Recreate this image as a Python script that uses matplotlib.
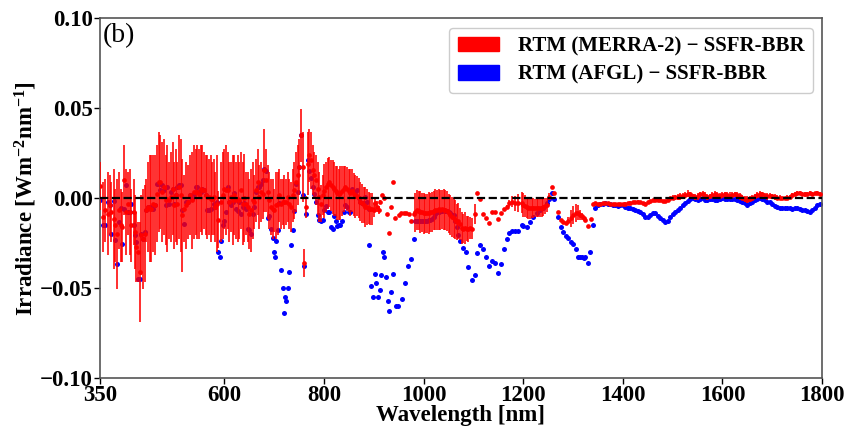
import matplotlib
matplotlib.use("Agg")
import matplotlib.pyplot as plt
from matplotlib.patches import Patch

plt.rcParams['font.family'] = ['Liberation Serif', 'DejaVu Serif']
plt.rcParams['mathtext.fontset'] = 'custom'
plt.rcParams['mathtext.rm'] = 'Liberation Serif:bold'
plt.rcParams['mathtext.it'] = 'Liberation Serif:bold'
plt.rcParams['mathtext.bf'] = 'Liberation Serif:bold'

# ---------------- data: RTM (MERRA-2) - SSFR-BBR (red, with error bars) ----------------
merra_wl = [350, 357, 360, 367, 370, 373, 378, 381, 385, 388, 392, 395, 399, 403, 407, 410, 413, 418, 420, 423,
            427, 430, 433, 437, 440, 443, 447, 450, 453, 457, 461, 465, 468, 471, 475, 479, 482, 485, 489, 492,
            496, 499, 502, 505, 509, 512, 515, 519, 523, 527, 531, 535, 539, 542, 545, 549, 552, 555, 559, 562,
            565, 569, 572, 575, 579, 582, 585, 588,
            593, 597, 600, 603, 607, 610, 613, 617, 620, 623, 627, 630, 633, 637, 640, 643, 647, 650, 653, 657,
            660, 663, 667, 670, 673, 677, 680, 683, 687, 690, 693, 697, 700, 703, 707, 710, 713, 717, 720, 723,
            727, 730, 733, 737, 740, 743, 747, 750, 753, 757, 760, 763, 767, 770, 773, 777, 780, 783, 787, 790,
            793, 797,
            800, 803, 807, 810, 813, 817, 820, 823, 827, 830, 833, 837, 840, 843, 847, 850, 853, 857, 860, 863,
            867, 870, 873, 877, 880, 883, 887, 890, 893, 897, 900, 903, 907, 910, 913, 917, 920, 927, 931, 935,
            938, 943, 950, 955, 960, 965, 970, 975, 981,
            983, 987, 990, 993, 997, 1000, 1003, 1007, 1010, 1013, 1017, 1020, 1023, 1027, 1030, 1033, 1037, 1040,
            1043, 1047, 1050, 1053, 1057, 1060, 1063, 1067, 1070, 1073, 1077, 1080, 1083, 1087, 1090, 1094, 1097,
            1103, 1108, 1113, 1120, 1125, 1131, 1138, 1143, 1149, 1155, 1161, 1167, 1172, 1177, 1183, 1190, 1197,
            1200, 1203, 1207, 1210, 1213, 1217, 1220, 1223, 1227, 1230, 1233, 1237, 1240, 1243, 1247, 1251, 1257,
            1261, 1270, 1275, 1280, 1285, 1290, 1295, 1300, 1305, 1309, 1313, 1318, 1322, 1325, 1330, 1337, 1340,
            1345,
            1350, 1355, 1360, 1365, 1370, 1375, 1380, 1385, 1390, 1395, 1400, 1405, 1410, 1415, 1420, 1425, 1430,
            1435, 1440, 1445, 1450, 1455, 1460, 1465, 1470, 1475, 1480, 1485, 1490, 1495, 1500, 1505, 1510, 1515,
            1520, 1525, 1530, 1535, 1540, 1545, 1550, 1555, 1560, 1565, 1570, 1575, 1580, 1585, 1590, 1595, 1600,
            1605, 1610, 1615, 1620, 1625, 1630, 1635, 1640, 1645, 1650, 1655, 1660, 1665, 1670, 1675, 1680, 1685,
            1690, 1695, 1700, 1705, 1710, 1715, 1720, 1725, 1730, 1735, 1740, 1745, 1750, 1755, 1760, 1765, 1770,
            1775, 1780, 1785, 1790, 1795]

merra_val = [0.0066, -0.0106, -0.0069, -0.0087, -0.0041, -0.0078, -0.0115, -0.0152, -0.0198, -0.0069, -0.0152,
             -0.0161, 0.0098, -0.0078, -0.0031, -0.0078, -0.0152, -0.0078, -0.0189, -0.0272, -0.0300, -0.0411,
             -0.0207, -0.0226, -0.0198, -0.0069, -0.0050, -0.0059, -0.0059, -0.0031, -0.0041, 0.0024, 0.0089,
             0.0089, 0.0033, 0.0061, -0.0013, -0.0004, -0.0013, 0.0006, 0.0052, -0.0041, 0.0015, -0.0031, 0.0061,
             0.0015, -0.0096, -0.0059, -0.0041, -0.0022, 0.0015, -0.0013, 0.0033, 0.0033, 0.0033, 0.0024, 0.0052,
             0.0043, 0.0043, 0.0015, 0.0006, 0.0006, -0.0004, -0.0004, 0.0006, -0.0050, -0.0031, -0.0120,
             -0.0022, 0.0015, 0.0052, 0.0043, 0.0043, -0.0022, 0.0006, -0.0013, 0.0015, -0.0013, -0.0004, -0.0013,
             0.0043, -0.0031, 0.0002, -0.0031, -0.0050, -0.0087, -0.0069, -0.0013, -0.0022, 0.0043, 0.0089, 0.0006,
             0.0033, 0.0024, 0.0154, 0.0098, 0.0033, -0.0013, -0.0050, -0.0059, -0.0069, -0.0041, -0.0031, 0.0015,
             -0.0031, -0.0022, -0.0022, -0.0022, 0.0006, -0.0031, -0.0050, 0.0015, 0.0043, 0.0089, 0.0126, 0.0172,
             0.0348, 0.0172, -0.0360, -0.0050, 0.0190, 0.0237, 0.0209, 0.0154, 0.0126, 0.0098, 0.0052, 0.0006,
             -0.0031, 0.0015,
             0.0040, 0.0060, 0.0080, 0.0090, 0.0070, 0.0060, 0.0050, 0.0040, 0.0030, 0.0020, 0.0030, 0.0040,
             0.0050, 0.0060, 0.0050, 0.0040, 0.0030, 0.0040, 0.0020, 0.0010, 0.0010, 0.0000, -0.0020, -0.0030,
             -0.0040, -0.0050, -0.0050, -0.0055, -0.0060, -0.0060, -0.0067, -0.0030, -0.0048, -0.0067, -0.0020,
             0.0017, -0.0002, -0.0087, -0.0194, -0.0050, 0.0091, -0.0113, -0.0094, -0.0085, -0.0081, -0.0085,
             -0.0089, -0.0130, -0.0090,
             -0.0080, -0.0065, -0.0070, -0.0078, -0.0080, -0.0085, -0.0085, -0.0085, -0.0083, -0.0080, -0.0078,
             -0.0070, -0.0065, -0.0067, -0.0063, -0.0065, -0.0063, -0.0065, -0.0067, -0.0072, -0.0085, -0.0095,
             -0.0105, -0.0110, -0.0120, -0.0135, -0.0125, -0.0145, -0.0165, -0.0170, -0.0165, -0.0170, -0.0172,
             -0.0168, -0.0170, -0.0090, 0.0026, -0.0007, -0.0089, -0.0113, -0.0137, -0.0080, -0.0080, -0.0119,
             -0.0085, -0.0063, -0.0048, -0.0030, -0.0020, -0.0030, -0.0030, -0.0026, -0.0039, -0.0045, -0.0052,
             -0.0055, -0.0057, -0.0057, -0.0057, -0.0057, -0.0057, -0.0057, -0.0057, -0.0055, -0.0052, -0.0045,
             -0.0039, 0.0007, 0.0063, 0.0026, -0.0076, -0.0122, -0.0131, -0.0137, -0.0126, -0.0113, -0.0094,
             -0.0085, -0.0081, -0.0094, -0.0102, -0.0113, -0.0122, -0.0156, -0.0119, -0.0035, -0.0026,
             -0.0035, -0.0033, -0.0030, -0.0030, -0.0030, -0.0032, -0.0033, -0.0035, -0.0035, -0.0033, -0.0033,
             -0.0032, -0.0030, -0.0026, -0.0024, -0.0022, -0.0020, -0.0024, -0.0028, -0.0031, -0.0024, -0.0017,
             -0.0013, -0.0011, -0.0013, -0.0013, -0.0017, -0.0017, -0.0009, -0.0002, 0.0002, 0.0004, 0.0006,
             0.0009, 0.0011, 0.0017, 0.0024, 0.0020, 0.0013, 0.0006, 0.0009, 0.0020, 0.0024, 0.0013, 0.0006,
             0.0009, 0.0017, 0.0020, 0.0017, 0.0013, 0.0017, 0.0020, 0.0017, 0.0013, 0.0017, 0.0020, 0.0017,
             0.0009, 0.0002, -0.0006, -0.0009, -0.0006, 0.0002, 0.0009, 0.0017, 0.0020, 0.0020, 0.0013, 0.0009,
             0.0013, 0.0009, 0.0006, 0.0002, 0.0002, -0.0002, -0.0002, 0.0002, 0.0007, 0.0017, 0.0024, 0.0028,
             0.0028, 0.0024, 0.0020, 0.0024, 0.0028, 0.0024, 0.0026, 0.0028, 0.0024]

merra_err = [0.0134, 0.0194, 0.0176, 0.0231, 0.0167, 0.0167, 0.0278, 0.0204, 0.0306, 0.0213, 0.0204, 0.0194,
             0.0194, 0.0241, 0.0176, 0.0241, 0.0204, 0.0185, 0.0204, 0.0194, 0.0167, 0.0278, 0.0222, 0.0278,
             0.0269, 0.0176, 0.0250, 0.0296, 0.0296, 0.0269, 0.0278, 0.0269, 0.0278, 0.0259, 0.0278, 0.0269,
             0.0250, 0.0296, 0.0213, 0.0250, 0.0259, 0.0241, 0.0259, 0.0231, 0.0287, 0.0315, 0.0315, 0.0185,
             0.0241, 0.0204, 0.0222, 0.0269, 0.0259, 0.0241, 0.0259, 0.0250, 0.0241, 0.0250, 0.0213, 0.0222,
             0.0231, 0.0213, 0.0241, 0.0204, 0.0213, 0.0194, 0.0269, 0.0160,
             0.0222, 0.0240, 0.0222, 0.0250, 0.0213, 0.0222, 0.0194, 0.0250, 0.0222, 0.0213, 0.0241, 0.0213,
             0.0213, 0.0231, 0.0245, 0.0176, 0.0194, 0.0194, 0.0231, 0.0213, 0.0148, 0.0176, 0.0185, 0.0176,
             0.0167, 0.0139, 0.0231, 0.0176, 0.0148, 0.0157, 0.0157, 0.0167, 0.0120, 0.0185, 0.0176, 0.0148,
             0.0139, 0.0130, 0.0148, 0.0130, 0.0139, 0.0139, 0.0139, 0.0148, 0.0157, 0.0167, 0.0167, 0.0157,
             0.0148, 0.0194, 0.0079, 0.0060, 0.0176, 0.0148, 0.0157, 0.0139, 0.0130, 0.0139, 0.0148, 0.0139,
             0.0102, 0.0111,
             0.0150, 0.0140, 0.0140, 0.0140, 0.0140, 0.0150, 0.0150, 0.0140, 0.0150, 0.0140, 0.0150, 0.0140,
             0.0130, 0.0120, 0.0120, 0.0120, 0.0130, 0.0120, 0.0120, 0.0120, 0.0110, 0.0110, 0.0110, 0.0110,
             0.0100, 0.0110, 0.0100, 0.0090, 0.0090, 0.0090, 0.0040, 0.0030, 0.0030, 0.0020, 0.0010, 0.0, 0.0,
             0.0, 0.0, 0.0, 0.0, 0.0, 0.0, 0.0, 0.0, 0.0, 0.0, 0.0, 0.0,
             0.0110, 0.0110, 0.0110, 0.0115, 0.0110, 0.0115, 0.0110, 0.0110, 0.0115, 0.0110, 0.0110, 0.0110,
             0.0115, 0.0110, 0.0115, 0.0110, 0.0110, 0.0115, 0.0110, 0.0110, 0.0110, 0.0110, 0.0110, 0.0110,
             0.0110, 0.0100, 0.0100, 0.0090, 0.0090, 0.0080, 0.0090, 0.0070, 0.0070, 0.0060, 0.0060, 0.0056,
             0.0, 0.0, 0.0, 0.0, 0.0, 0.0, 0.0, 0.0, 0.0, 0.0, 0.0010, 0.0020, 0.0030, 0.0040, 0.0050, 0.0060,
             0.0065, 0.0060, 0.0060, 0.0060, 0.0060, 0.0055, 0.0055, 0.0050, 0.0050, 0.0050, 0.0050, 0.0050,
             0.0050, 0.0045, 0.0040, 0.0020, 0.0, 0.0, 0.0, 0.0, 0.0, 0.0, 0.0020, 0.0046, 0.0050, 0.0050,
             0.0040, 0.0030, 0.0020, 0.0, 0.0, 0.0, 0.0, 0.0, 0.0,
             0.0005, 0.0005, 0.0005, 0.0005, 0.0005, 0.0005, 0.0005, 0.0005, 0.0005, 0.0005, 0.0005, 0.0008,
             0.0008, 0.0008, 0.0008, 0.0008, 0.0008, 0.0008, 0.0008, 0.0008, 0.0008, 0.0008, 0.0008, 0.0008,
             0.0008, 0.0008, 0.0008, 0.0008, 0.0008, 0.0010, 0.0012, 0.0015, 0.0015, 0.0018, 0.0015, 0.0015,
             0.0018, 0.0015, 0.0012, 0.0015, 0.0018, 0.0015, 0.0015, 0.0018, 0.0015, 0.0012, 0.0015, 0.0018,
             0.0015, 0.0015, 0.0018, 0.0015, 0.0015, 0.0018, 0.0015, 0.0012, 0.0015, 0.0018, 0.0015, 0.0015,
             0.0018, 0.0015, 0.0015, 0.0012, 0.0015, 0.0018, 0.0015, 0.0015, 0.0018, 0.0015, 0.0012, 0.0015,
             0.0015, 0.0012, 0.0010, 0.0010, 0.0012, 0.0012, 0.0010, 0.0012, 0.0012, 0.0010, 0.0010, 0.0012,
             0.0010, 0.0010, 0.0012, 0.0010, 0.0012, 0.0010]

# ---------------- data: RTM (AFGL) - SSFR-BBR (blue) ----------------
afgl_wl = [350, 357, 360, 367, 370, 373, 378, 381, 385, 388, 392, 395, 399, 403, 407, 410, 413, 418, 420, 423,
           427, 430, 433, 437, 440, 443, 447, 450, 453, 457, 461, 465, 468, 471, 475, 479, 482, 485, 489, 492,
           496, 499, 502, 505, 509, 512, 515, 519, 523, 527, 531, 535, 539, 542, 545, 549, 552, 555, 559, 562,
           565, 569, 572, 575, 579, 582, 585, 588, 591,
           593, 597, 600, 603, 607, 610, 613, 617, 620, 623, 627, 630, 633, 637, 640, 643, 647, 650, 653, 657,
           660, 663, 667, 670, 673, 677, 680, 683, 687, 690, 693, 697, 699, 701, 703, 707, 710, 714, 717, 719,
           721, 724, 727, 730, 733, 737, 740, 743, 747, 750, 753, 757, 760, 763, 767, 770, 773, 777, 780, 783,
           787, 790, 793, 797, 800, 803, 807, 810, 813, 817, 820, 823, 827, 830, 833, 837, 840, 843, 847, 850,
           853, 857, 860, 863, 867, 870, 873, 877, 880, 883, 887, 890,
           891, 895, 899, 902, 905, 909, 912, 915, 918, 921, 925, 929, 931, 935, 938, 944, 949, 956, 962, 969,
           975, 981,
           983, 987, 990, 993, 997, 1000, 1003, 1007, 1010, 1013, 1017, 1020, 1023, 1027, 1030, 1033, 1037, 1040,
           1043, 1047, 1050, 1053, 1057, 1060, 1063, 1067, 1070, 1073, 1079, 1085, 1090, 1097, 1103, 1108, 1113,
           1120, 1125, 1131, 1138, 1143, 1149, 1155, 1161, 1167, 1172, 1177, 1183, 1190, 1197, 1200, 1207, 1213,
           1220, 1227, 1233, 1240, 1247, 1251, 1257, 1261, 1270, 1275, 1280, 1285, 1290, 1295, 1300, 1305, 1309,
           1313, 1318, 1322, 1325, 1330, 1335, 1341, 1345,
           1350, 1355, 1360, 1365, 1370, 1375, 1380, 1385, 1390, 1395, 1400, 1405, 1410, 1415, 1420, 1425, 1430,
           1435, 1440, 1445, 1450, 1455, 1460, 1465, 1470, 1475, 1480, 1485, 1490, 1495, 1500, 1505, 1510, 1515,
           1520, 1525, 1530, 1535, 1540, 1545, 1550, 1555, 1560, 1565, 1570, 1575, 1580, 1585, 1590, 1595, 1600,
           1605, 1610, 1615, 1620, 1625, 1630, 1635, 1640, 1645, 1650, 1655, 1660, 1665, 1670, 1675, 1680, 1685,
           1690, 1695, 1700, 1705, 1710, 1715, 1720, 1725, 1730, 1735, 1740, 1745, 1750, 1755, 1760, 1765, 1770,
           1775, 1780, 1785, 1790, 1795]

afgl_val = [-0.0013, -0.0152, -0.0152, -0.0022, -0.0040, -0.0198, -0.0019, -0.0235, -0.0365, -0.0133, -0.0056,
            -0.0254, -0.0059, 0.0074, -0.0078, -0.0078, -0.0031, -0.0152, -0.0207, -0.0244, -0.0452, -0.0448,
            -0.0198, -0.0226, -0.0189, -0.0069, -0.0050, -0.0050, -0.0050, -0.0059, -0.0041, 0.0080, 0.0080,
            0.0043, 0.0070, 0.0043, -0.0041, 0.0061, -0.0031, 0.0033, 0.0052, -0.0031, 0.0015, 0.0061, 0.0070,
            0.0070, -0.0069, -0.0143, -0.0022, -0.0022, 0.0015, -0.0004, 0.0024, 0.0061, 0.0061, 0.0033, 0.0033,
            0.0052, 0.0043, 0.0015, -0.0069, -0.0069, -0.0059, -0.0004, -0.0031, -0.0050, -0.0022, -0.0300,
            -0.0330,
            -0.0240, -0.0150, -0.0130, -0.0080, 0.0060, -0.0020, -0.0040, -0.0020, 0.0030, -0.0060, -0.0070,
            -0.0020, -0.0087, -0.0050, -0.0030, -0.0060, -0.0170, -0.0180, -0.0200, -0.0087, -0.0050, 0.0033,
            0.0060, 0.0060, 0.0080, 0.0100, 0.0160, 0.0150, -0.0110, -0.0100, -0.0170, -0.0220, -0.0300, -0.0330,
            -0.0240, -0.0180, -0.0030, -0.0400, -0.0500, -0.0640, -0.0550, -0.0570, -0.0500, -0.0410, -0.0260,
            -0.0180, -0.0070, 0.0080, 0.0033, 0.0170, 0.0350, 0.0015, -0.0380, -0.0090, 0.0210, 0.0150, 0.0110,
            0.0060, 0.0020, -0.0020, -0.0096, -0.0120, -0.0130, -0.0124, -0.0065, -0.0045, -0.0080, -0.0076,
            -0.0160, -0.0174, -0.0102, -0.0126, -0.0156, -0.0150, -0.0150, -0.0126, -0.0080, -0.0040, -0.0048,
            -0.0076, -0.0075, 0.0050, 0.0035, 0.0020, 0.0044, -0.0002, -0.0020, -0.0030, -0.0030, 0.0007, -0.0020,
            -0.0060,
            -0.0260, -0.0490, -0.0550, -0.0420, -0.0470, -0.0550, -0.0510, -0.0430, -0.0300, -0.0330, -0.0440,
            -0.0570, -0.0630, -0.0520, -0.0420, -0.0600, -0.0600, -0.0560, -0.0470, -0.0380, -0.0340, -0.0230,
            -0.0125, -0.0127, -0.0126, -0.0125, -0.0128, -0.0126, -0.0127, -0.0125, -0.0122, -0.0120, -0.0115,
            -0.0105, -0.0088, -0.0078, -0.0075, -0.0072, -0.0070, -0.0068, -0.0070, -0.0072, -0.0078, -0.0085,
            -0.0095, -0.0095, -0.0125, -0.0160, -0.0206, -0.0240, -0.0280, -0.0300, -0.0385, -0.0456, -0.0428,
            -0.0307, -0.0261, -0.0285, -0.0326, -0.0378, -0.0348, -0.0363, -0.0415, -0.0367, -0.0285, -0.0226,
            -0.0193, -0.0181, -0.0185, -0.0181, -0.0150, -0.0155, -0.0159, -0.0131, -0.0104, -0.0085, -0.0067,
            -0.0057, -0.0030, -0.0007, 0.0030, -0.0007, -0.0107, -0.0163, -0.0187, -0.0211, -0.0224, -0.0243,
            -0.0256, -0.0283, -0.0326, -0.0326, -0.0330, -0.0335, -0.0330, -0.0359, -0.0298, -0.0150, -0.0057,
            -0.0039, -0.0035, -0.0031, -0.0030, -0.0031, -0.0035, -0.0037, -0.0041, -0.0043, -0.0039, -0.0041,
            -0.0048, -0.0054, -0.0057, -0.0061, -0.0065, -0.0072, -0.0076, -0.0091, -0.0104, -0.0104, -0.0094,
            -0.0083, -0.0085, -0.0098, -0.0113, -0.0124, -0.0131, -0.0128, -0.0104, -0.0091, -0.0080, -0.0067,
            -0.0054, -0.0039, -0.0028, -0.0017, -0.0006, -0.0002, -0.0007, -0.0011, -0.0006, -0.0002, -0.0009,
            -0.0013, -0.0006, -0.0006, -0.0009, -0.0011, -0.0006, -0.0002, -0.0006, -0.0007, -0.0006, -0.0004,
            -0.0007, -0.0011, -0.0015, -0.0020, -0.0028, -0.0039, -0.0030, -0.0020, -0.0013, -0.0006, -0.0002,
            -0.0006, -0.0013, -0.0020, -0.0024, -0.0035, -0.0043, -0.0048, -0.0054, -0.0057, -0.0057, -0.0054,
            -0.0057, -0.0061, -0.0057, -0.0057, -0.0061, -0.0065, -0.0069, -0.0072, -0.0076, -0.0065, -0.0054,
            -0.0039, -0.0031]

x_ticks = [350, 600, 800, 1000, 1200, 1400, 1600, 1800]
y_ticks = [-0.10, -0.05, 0.00, 0.05, 0.10]
y_ticklabels = ['\u22120.10', '\u22120.05', '0.00', '0.05', '0.10']
legend_labels = ['RTM (MERRA-2) \u2212 SSFR-BBR', 'RTM (AFGL) \u2212 SSFR-BBR']

fig = plt.figure(figsize=(8.45, 4.30), dpi=100)
ax = fig.add_axes([0.1183, 0.1209, 0.8545, 0.8372])

ax.plot(afgl_wl, afgl_val, 'o', color='blue', ms=3.6, mew=0, zorder=2)
ax.errorbar(merra_wl, merra_val, yerr=merra_err, fmt='o', color='red', ms=3.4, mew=0,
            ecolor=(1, 0, 0, 0.85), elinewidth=1.35, capsize=0, zorder=3)
ax.axhline(0, color='black', ls='--', lw=1.6, zorder=4)

ax.set_xlim(350, 1800)
ax.set_ylim(-0.1, 0.1)
ax.set_xticks(x_ticks)
ax.set_xticklabels([str(t) for t in x_ticks])
ax.set_yticks(y_ticks)
ax.set_yticklabels(y_ticklabels)
for lab in ax.get_xticklabels() + ax.get_yticklabels():
    lab.set_fontweight('bold')
    lab.set_fontsize(16.5)
ax.tick_params(axis='both', direction='out', length=4, width=1, pad=1, colors='black')

for sp in ax.spines.values():
    sp.set_color('#555555')
    sp.set_linewidth(1.2)

ax.set_xlabel('Wavelength [nm]', fontsize=16.5, fontweight='bold', labelpad=-1)
ax.set_ylabel('Irradiance [Wm$^{-2}$nm$^{-1}$]', fontsize=16.5, fontweight='bold', labelpad=1)

ax.text(0.004, 0.985, '(b)', transform=ax.transAxes, fontsize=20, va='top', ha='left')

handles = [Patch(facecolor='red', edgecolor='red'), Patch(facecolor='blue', edgecolor='blue')]
leg = ax.legend(handles, legend_labels, loc='upper right', bbox_to_anchor=(0.9875, 0.972),
                borderaxespad=0.0,
                prop={'family': 'Liberation Serif', 'weight': 'bold', 'size': 15},
                handlelength=2.0, handleheight=0.7, handletextpad=0.9, labelspacing=0.4,
                borderpad=0.4, fancybox=True, framealpha=1.0, edgecolor='#cccccc')

fig.savefig('out.png', dpi=100)
